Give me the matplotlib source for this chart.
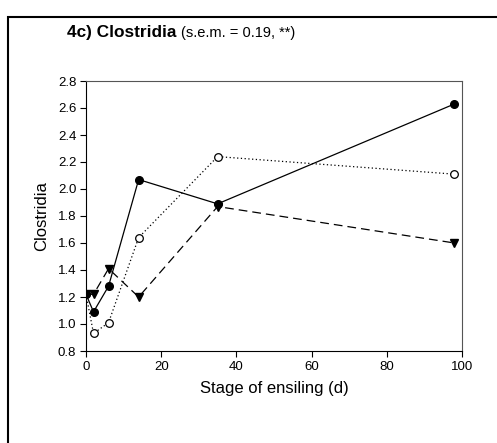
import matplotlib.pyplot as plt
from matplotlib.patches import Rectangle

plt.rcParams["font.family"] = ["Liberation Sans", "DejaVu Sans"]

# stage of ensiling (days)
days = [0, 2, 6, 14, 35, 98]
# three treatments
solid_vals = [1.22, 1.09, 1.28, 2.07, 1.89, 2.63]
dotted_vals = [1.22, 0.93, 1.01, 1.64, 2.24, 2.11]
dashed_vals = [1.22, 1.22, 1.41, 1.20, 1.87, 1.60]

x_ticks = [0, 20, 40, 60, 80, 100]
y_ticks = [0.8, 1.0, 1.2, 1.4, 1.6, 1.8, 2.0, 2.2, 2.4, 2.6, 2.8]

W, H = 497, 443
fig = plt.figure(figsize=(W / 100, H / 100), dpi=100)
ax = fig.add_axes([86 / W, 1 - 351 / H, (462 - 86) / W, (351 - 81) / H])

ax.plot(days, dotted_vals, color="black", lw=0.9, ls=(0, (1, 2)),
        marker="o", ms=5.5, mfc="white", mec="black", mew=0.9)
ax.plot(days, dashed_vals, color="black", lw=0.9, ls=(0, (7, 4)),
        marker="v", ms=6, mfc="black", mec="black")
ax.plot(days, solid_vals, color="black", lw=0.9, ls="-",
        marker="o", ms=5.5, mfc="black", mec="black")

ax.set_xlim(0, 100)
ax.set_ylim(0.8, 2.8)
ax.set_xticks(x_ticks)
ax.set_yticks(y_ticks)
ax.set_yticklabels([f"{v:.1f}" for v in y_ticks])
ax.tick_params(direction="out", length=4, width=0.8, labelsize=9.5, pad=3)
for s in ax.spines.values():
    s.set_linewidth(0.8)
for s in ("top", "right"):
    ax.spines[s].set_color("#555555")

ax.set_xlabel("Stage of ensiling (d)", fontsize=12, labelpad=6)
ax.set_ylabel("Clostridia", fontsize=12, labelpad=6)

fig.text(67 / W, 1 - 33 / H, "4c) Clostridia", fontsize=12.4, fontweight="bold",
         va="center", ha="left")
fig.text(181 / W, 1 - 33 / H, "(s.e.m. = 0.19, **)", fontsize=10.5,
         va="center", ha="left")

# outer frame of the panel, running off the right and bottom edges
fig.patches.append(Rectangle((8 / W, -0.1), 1.2, 1 - 17 / H + 0.1,
                             transform=fig.transFigure, fill=False,
                             lw=1.5, ec="black", clip_on=False))

fig.savefig("out.png", dpi=100)
